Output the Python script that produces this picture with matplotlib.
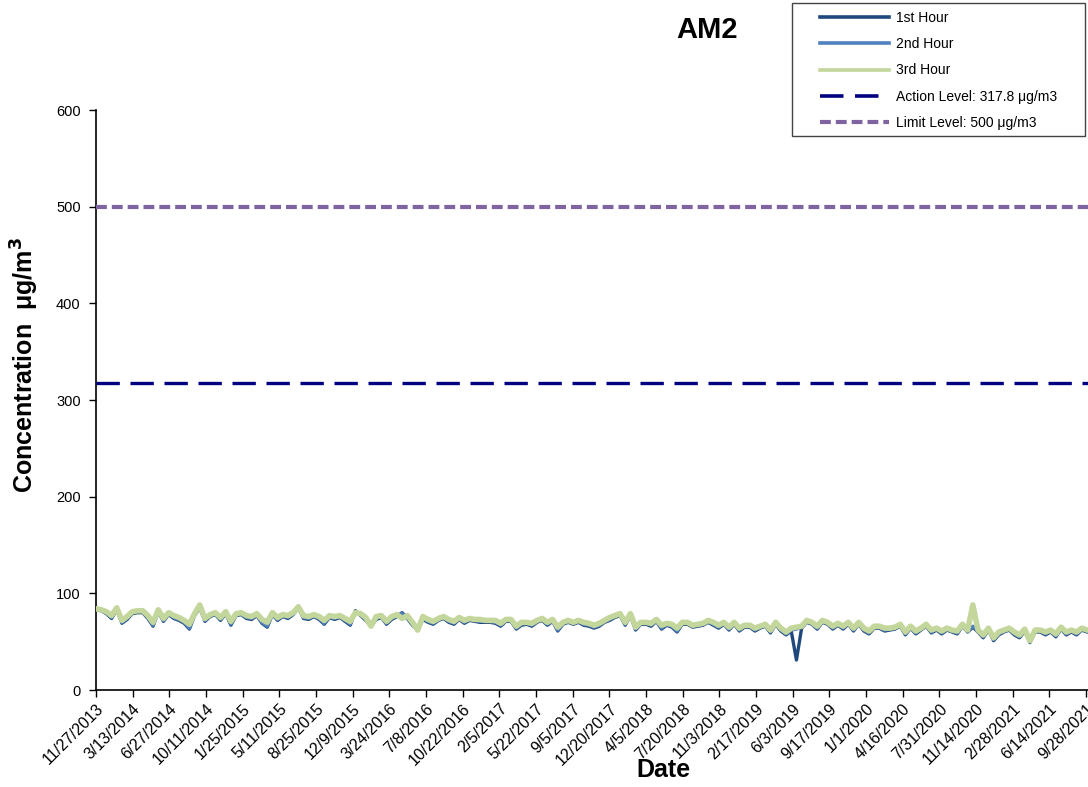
import pandas as pd
import matplotlib
matplotlib.use("Agg")
import matplotlib.pyplot as plt
from matplotlib.lines import Line2D
from matplotlib.patches import Rectangle

plt.rcParams['font.family'] = ['Liberation Sans', 'DejaVu Sans']

# sampling dates: every 15 days from the first reading
dates = pd.date_range("2013-11-27", periods=193, freq="15D")

hour3 = [
    84, 83, 81, 77, 85, 72, 76, 81, 82, 82,
    77, 70, 83, 74, 80, 77, 75, 72, 68, 79,
    88, 74, 78, 80, 75, 81, 71, 79, 80, 77,
    76, 79, 73, 70, 80, 75, 78, 77, 80, 86,
    77, 76, 78, 76, 72, 77, 76, 77, 74, 71,
    80, 79, 75, 66, 76, 77, 71, 76, 78, 74,
    77, 70, 62, 76, 73, 71, 74, 76, 73, 71,
    75, 72, 74, 73, 73, 72, 72, 72, 69, 73,
    73, 66, 70, 70, 69, 72, 74, 70, 73, 65,
    70, 72, 70, 72, 70, 69, 67, 69, 72, 75,
    77, 79, 70, 79, 65, 70, 70, 69, 73, 67,
    69, 68, 64, 70, 70, 67, 68, 69, 72, 70,
    67, 70, 65, 70, 64, 67, 67, 64, 66, 68,
    62, 70, 64, 60, 64, 65, 66, 72, 70, 66,
    72, 70, 66, 69, 66, 70, 64, 70, 64, 61,
    66, 66, 64, 64, 65, 68, 60, 66, 61, 64,
    68, 62, 64, 61, 64, 62, 61, 68, 62, 88,
    62, 57, 64, 54, 60, 62, 64, 60, 57, 63,
    51, 62, 62, 60, 62, 58, 65, 60, 62, 60,
    64, 62, 62,
]

hour2 = [
    83, 82, 80, 75, 84, 70, 74, 80, 81, 81,
    75, 67, 82, 72, 79, 75, 73, 70, 64, 78,
    86, 72, 77, 79, 73, 80, 68, 78, 79, 75,
    74, 78, 70, 66, 79, 73, 77, 75, 79, 87,
    75, 74, 77, 74, 69, 76, 74, 76, 72, 68,
    81, 78, 73, 67, 74, 76, 69, 74, 77, 79,
    75, 68, 63, 74, 71, 69, 73, 75, 71, 69,
    74, 70, 73, 72, 71, 71, 71, 70, 67, 72,
    72, 64, 68, 69, 67, 71, 73, 68, 72, 62,
    69, 71, 69, 71, 68, 67, 65, 67, 71, 73,
    76, 78, 68, 78, 63, 69, 69, 67, 72, 64,
    68, 66, 61, 69, 69, 66, 67, 68, 71, 68,
    65, 69, 63, 69, 62, 66, 66, 62, 65, 67,
    60, 69, 62, 58, 62, 63, 65, 71, 69, 64,
    71, 69, 64, 68, 64, 69, 62, 69, 62, 59,
    65, 65, 62, 63, 64, 67, 58, 65, 59, 63,
    67, 60, 63, 59, 63, 61, 59, 67, 61, 66,
    61, 55, 63, 52, 58, 61, 63, 58, 55, 62,
    50, 61, 61, 58, 61, 56, 64, 58, 61, 58,
    63, 61, 61,
]

hour1 = [
    84, 82, 79, 74, 83, 69, 73, 79, 80, 80,
    74, 66, 81, 71, 78, 74, 72, 69, 63, 77,
    85, 71, 76, 78, 72, 79, 67, 77, 78, 74,
    73, 77, 69, 65, 78, 72, 76, 74, 78, 85,
    74, 73, 76, 73, 68, 75, 73, 75, 71, 67,
    82, 77, 72, 66, 73, 75, 68, 73, 76, 80,
    74, 67, 62, 73, 70, 68, 72, 74, 70, 68,
    73, 69, 72, 71, 70, 70, 70, 69, 66, 71,
    71, 63, 67, 68, 66, 70, 72, 67, 71, 61,
    68, 70, 68, 70, 67, 66, 64, 66, 70, 72,
    75, 77, 67, 77, 62, 68, 68, 66, 71, 63,
    67, 65, 60, 68, 68, 65, 66, 67, 70, 67,
    64, 68, 62, 68, 61, 65, 65, 61, 64, 66,
    59, 68, 61, 57, 61, 31, 64, 70, 68, 63,
    70, 68, 63, 67, 63, 68, 61, 68, 61, 58,
    64, 64, 61, 62, 63, 66, 57, 64, 58, 62,
    66, 59, 62, 58, 62, 60, 58, 66, 60, 65,
    60, 54, 62, 51, 57, 60, 62, 57, 54, 61,
    49, 60, 60, 57, 60, 55, 63, 57, 60, 57,
    62, 60, 60,
]

action_level = 317.8
limit_level = 500

tick_dates = pd.date_range("2013-11-27", periods=28, freq="106D")
tick_labels = [f"{d.month}/{d.day}/{d.year}" for d in tick_dates]

W, H = 1088, 787
fig = plt.figure(figsize=(W / 100, H / 100), dpi=100)
ax = fig.add_axes([96 / W, 1 - 690 / H, 1010 / W, 580 / H])

ax.plot(dates, hour1, color="#1F497D", lw=2.4, zorder=2)
ax.plot(dates, hour2, color="#4F81BD", lw=2.4, zorder=3)
ax.plot(dates, hour3, color="#C3D69B", lw=4.0, zorder=4)
ax.axhline(action_level, color="#000080", lw=2.4, dashes=(7, 3.2), zorder=5)
ax.axhline(limit_level, color="#8064A2", lw=3.0, dashes=(2.6, 1.2), zorder=5)

ax.set_ylim(0, 600)
ax.set_yticks(range(0, 601, 100))
ax.set_xlim(dates[0], dates[0] + pd.Timedelta(days=2920))
ax.set_xticks(tick_dates)
ax.set_xticklabels(tick_labels, rotation=45, ha="right", rotation_mode="anchor")
ax.tick_params(axis="both", length=5, width=1, direction="out")
ax.tick_params(axis="y", labelsize=10.5, pad=6)
ax.tick_params(axis="x", labelsize=11.5, pad=3)
for s in ["top", "right"]:
    ax.spines[s].set_visible(False)
for s in ["left", "bottom"]:
    ax.spines[s].set_linewidth(1.2)

fig.text(25 / W, 1 - 365 / H, "Concentration  \u03bcg/m$\\mathbf{^3}$", rotation=90,
         ha="center", va="center", fontsize=18, fontweight="bold")
fig.text(663 / W, 1 - 770 / H, "Date", ha="center", va="center",
         fontsize=18, fontweight="bold")
fig.text(707 / W, 1 - 30 / H, "AM2", ha="center", va="center",
         fontsize=21, fontweight="bold")

# legend box
fig.patches.append(Rectangle((792 / W, 1 - 136 / H), 293 / W, 133 / H,
                             transform=fig.transFigure, fill=False,
                             edgecolor="#444444", lw=1.0))
handles = [
    Line2D([], [], color="#1F497D", lw=2.6),
    Line2D([], [], color="#4F81BD", lw=2.6),
    Line2D([], [], color="#C3D69B", lw=2.6),
    Line2D([], [], color="#000080", lw=2.6, dashes=(6.5, 3.2)),
    Line2D([], [], color="#8064A2", lw=3.0, dashes=(2.6, 1.2)),
]
labels = ["1st Hour", "2nd Hour", "3rd Hour",
          "Action Level: 317.8 \u03bcg/m3", "Limit Level: 500 \u03bcg/m3"]
fig.legend(handles, labels, loc="upper left",
           bbox_to_anchor=(820 / W, 1 - 11 / H), fontsize=10,
           frameon=False, handlelength=5.0, handletextpad=0.5,
           labelspacing=0.88, borderpad=0, borderaxespad=0)

fig.savefig("out.png", dpi=100)
